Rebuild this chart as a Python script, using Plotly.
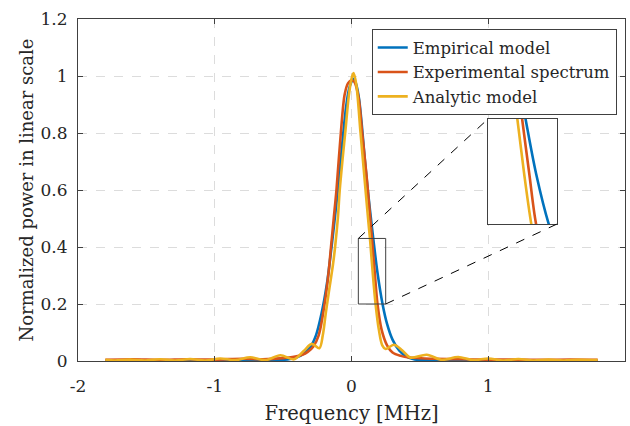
import plotly.graph_objects as go

# ---------------- data ----------------
series_names = ["Empirical model", "Experimental spectrum", "Analytic model"]

freq_emp = [-1.8, -1.2, -0.8, -0.6, -0.5, -0.45, -0.4, -0.35, -0.3, -0.26, -0.22, -0.18,
            -0.146, -0.12, -0.098, -0.08, -0.06, -0.04, -0.02, 0.0, 0.015, 0.035, 0.055,
            0.075, 0.095, 0.115, 0.135, 0.159, 0.19, 0.227, 0.26, 0.3, 0.35, 0.4, 0.45,
            0.5, 0.6, 0.8, 1.2, 1.8]
pow_emp = [0.001, 0.001, 0.001, 0.002, 0.004, 0.007, 0.013, 0.026, 0.05, 0.09, 0.165, 0.27,
           0.40, 0.51, 0.61, 0.70, 0.80, 0.89, 0.95, 0.98, 0.99, 0.97, 0.92,
           0.83, 0.72, 0.62, 0.53, 0.43, 0.31, 0.20, 0.13, 0.075, 0.036, 0.016, 0.007,
           0.003, 0.002, 0.001, 0.001, 0.001]

freq_exp = [-1.8, -1.6, -1.4, -1.2, -1.0, -0.8, -0.65, -0.5, -0.42, -0.36, -0.32, -0.28,
            -0.24, -0.2, -0.17, -0.15, -0.13, -0.11, -0.078, -0.05, -0.025, 0.0, 0.02,
            0.05, 0.078, 0.11, 0.13, 0.149, 0.17, 0.19, 0.22, 0.26, 0.3, 0.36, 0.42, 0.5,
            0.6, 0.8, 1.0, 1.2, 1.4, 1.6, 1.8]
pow_exp = [0.004, 0.006, 0.004, 0.006, 0.005, 0.008, 0.006, 0.01, 0.015, 0.022, 0.032, 0.05,
           0.09, 0.19, 0.30, 0.40, 0.50, 0.60, 0.80, 0.935, 0.975, 0.985, 0.98,
           0.93, 0.80, 0.65, 0.54, 0.43, 0.31, 0.20, 0.11, 0.055, 0.03, 0.018, 0.012, 0.01,
           0.008, 0.006, 0.005, 0.005, 0.004, 0.005, 0.004]

freq_ana = [-1.8, -1.73, -1.62, -1.51, -1.40, -1.29, -1.18, -1.07, -0.96, -0.85, -0.74, -0.63,
            -0.52, -0.42, -0.35, -0.29, -0.235, -0.21, -0.188, -0.16, -0.135, -0.12, -0.1,
            -0.086, -0.065, -0.044, -0.02, 0.0, 0.015, 0.035, 0.066, 0.09, 0.11, 0.125,
            0.135, 0.155, 0.176, 0.2, 0.225, 0.25, 0.31, 0.37, 0.43, 0.55, 0.66, 0.78, 0.89,
            1.0, 1.11, 1.22, 1.33, 1.44, 1.55, 1.66, 1.8]
pow_ana = [0.004, 0.002, 0.005, 0.002, 0.006, 0.002, 0.007, 0.002, 0.009, 0.003, 0.013, 0.003,
           0.02, 0.006, 0.035, 0.06, 0.045, 0.09, 0.168, 0.26, 0.34, 0.40, 0.50,
           0.60, 0.71, 0.81, 0.93, 0.99, 1.01, 0.97, 0.80, 0.67, 0.56, 0.48,
           0.43, 0.31, 0.20, 0.11, 0.055, 0.042, 0.057, 0.038, 0.012, 0.022, 0.004, 0.014, 0.003,
           0.009, 0.002, 0.007, 0.002, 0.005, 0.002, 0.004, 0.003]

x_ticks = [-2, -1, 0, 1, 2]
x_ticklabels = ["-2", "-1", "0", "1", "2"]
y_ticks = [0, 0.2, 0.4, 0.6, 0.8, 1.0, 1.2]
y_ticklabels = ["0", "0.2", "0.4", "0.6", "0.8", "1", "1.2"]

# ---------------- styling / layout ----------------
colors = ["#0072BD", "#D95319", "#EDB120"]
FONT = "DejaVu Serif"
TXT = "#262626"
AX = "#404040"
x_range = [-2, 2]
y_range = [0, 1.2]
zoom_x = [0.05, 0.25]      # zoomed region (data units)
zoom_y = [0.2, 0.43]
inset_x = [1.0, 1.5]       # where the inset sits (main data units)
inset_y = [0.48, 0.85]

fig = go.Figure()
data = [(freq_emp, pow_emp), (freq_exp, pow_exp), (freq_ana, pow_ana)]
for (fx, py), name, c in zip(data, series_names, colors):
    fig.add_trace(go.Scatter(x=fx, y=py, name=name, mode="lines",
                             line=dict(color=c, width=2.6, shape="spline", smoothing=0.9),
                             xaxis="x", yaxis="y"))
for (fx, py), name, c in zip(data, series_names, colors):
    fig.add_trace(go.Scatter(x=fx, y=py, name=name, mode="lines", showlegend=False,
                             line=dict(color=c, width=2.6, shape="spline", smoothing=0.9),
                             xaxis="x2", yaxis="y2"))

def frac(v, r):
    return (v - r[0]) / (r[1] - r[0])

axis_common = dict(showline=True, linecolor=AX, linewidth=1, mirror="allticks",
                   ticks="inside", ticklen=5, tickcolor=AX, zeroline=False,
                   showgrid=True, gridcolor="#dcdcdc", griddash="dash", gridwidth=1,
                   automargin=False,
                   tickfont=dict(family=FONT, size=17, color=TXT))

fig.update_layout(
    width=630, height=426,
    margin=dict(l=78, r=5, t=19, b=65),
    paper_bgcolor="white", plot_bgcolor="white",
    font=dict(family=FONT, color=TXT),
    xaxis=dict(range=x_range, tickvals=x_ticks, ticktext=x_ticklabels,
               domain=[0, 1], ticklabelstandoff=10,
               title=dict(text="Frequency [MHz]", font=dict(family=FONT, size=19.5, color=TXT),
                          standoff=10),
               **axis_common),
    yaxis=dict(range=y_range, tickvals=y_ticks, ticktext=y_ticklabels,
               domain=[0, 1], ticklabelstandoff=6,
               title=dict(text="Normalized power in linear scale",
                          font=dict(family=FONT, size=18, color=TXT), standoff=2),
               **axis_common),
    xaxis2=dict(range=zoom_x, domain=[frac(inset_x[0], x_range), frac(inset_x[1], x_range)],
                anchor="y2", showticklabels=False, ticks="", showgrid=False, zeroline=False,
                showline=True, mirror=True, linecolor=AX, linewidth=1),
    yaxis2=dict(range=zoom_y, domain=[frac(inset_y[0], y_range), frac(inset_y[1], y_range)],
                anchor="x2", showticklabels=False, ticks="", showgrid=False, zeroline=False,
                showline=True, mirror=True, linecolor=AX, linewidth=1),
    legend=dict(x=0.537, y=0.97, xanchor="left", yanchor="top",
                bgcolor="white", bordercolor=AX, borderwidth=1,
                font=dict(family=FONT, size=16.5, color=TXT),
                tracegroupgap=0, itemwidth=30),
    showlegend=True,
)

# white backing for the inset (hides main grid lines)
fig.add_shape(type="rect", xref="x", yref="y", x0=inset_x[0], x1=inset_x[1],
              y0=inset_y[0], y1=inset_y[1], fillcolor="white", line=dict(width=0),
              layer="between")
# zoom box on main axes
fig.add_shape(type="rect", xref="x", yref="y", x0=zoom_x[0], x1=zoom_x[1],
              y0=zoom_y[0], y1=zoom_y[1], line=dict(color=AX, width=1), layer="above")
# connector lines
fig.add_shape(type="line", xref="x", yref="y", x0=zoom_x[0], y0=zoom_y[1],
              x1=inset_x[0], y1=inset_y[1], line=dict(color="black", width=1, dash="dash"))
fig.add_shape(type="line", xref="x", yref="y", x0=zoom_x[1], y0=zoom_y[0],
              x1=inset_x[1], y1=inset_y[0], line=dict(color="black", width=1, dash="dash"))

fig.write_html("out.html", config={"displayModeBar": False},
               post_script="document.body.style.margin='0';document.body.style.padding='0';")
